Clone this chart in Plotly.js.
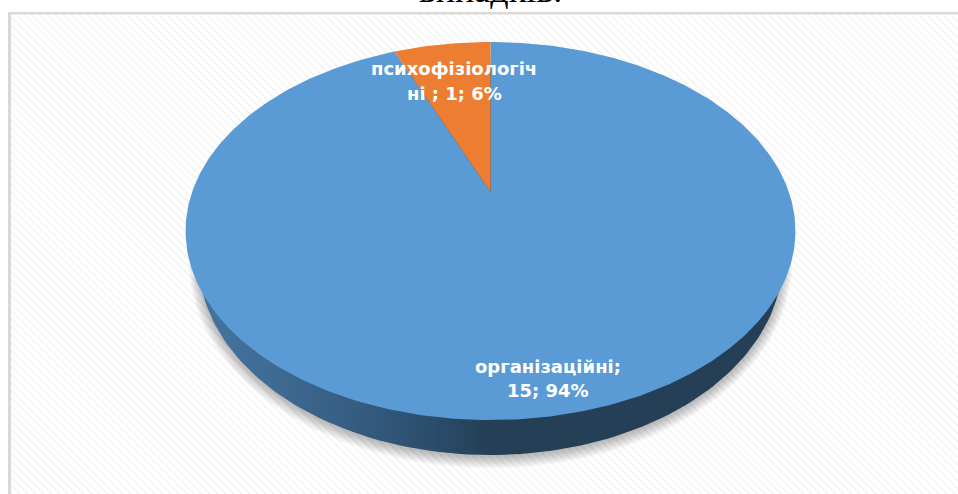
<!DOCTYPE html>
<html><head><meta charset="utf-8">
<script src="https://cdn.plot.ly/plotly-3.0.1.min.js"></script>
<style>
html,body{margin:0;padding:0;background:#fff;overflow:hidden}
#wrap{position:relative;width:958px;height:494px}
#hatch{position:absolute;left:11px;top:14px;right:0;bottom:0;background:repeating-linear-gradient(45deg,#f6f6f6 0,#f6f6f6 2px,#ffffff 2px,#ffffff 5.6px)}
#chart{position:absolute;left:0;top:0;width:958px;height:494px}
</style></head><body>
<div id="wrap"><div id="hatch"></div><div id="chart"></div></div>
<script>
const categories = ['організаційні', 'психофізіологічні'];
const values = [15, 1];
const percents = ['94%', '6%'];
const sliceColors = ['#5b9bd5', '#ed7d31'];
const labelLines = [['організаційні;', '15; 94%'], ['психофізіологіч', 'ні ; 1; 6%']];
const labelX = [548, 454];
const labelY = [[366, 390], [68, 93]];
const titleText = 'випадків.';

// Disc seen in perspective: a pie angle is projected to the page frame
const apex = {x: 490.5, y: 192}, persp = 0.2063, P = 181, Q = 298.4;
const project = a => {
  const d = 1 + persp * Math.cos(a);
  return [apex.x + Q * Math.sin(a) / d, apex.y - P * Math.cos(a) / d];
};
const total = values.reduce((s, v) => s + v, 0);
const traces = [];

function ellipse(cx, cy, rx, ry) {
  const xs = [], ys = [];
  for (let i = 0; i <= 240; i++) {
    const t = i / 240 * 2 * Math.PI;
    xs.push(cx + rx * Math.cos(t)); ys.push(cy + ry * Math.sin(t));
  }
  return {x: xs, y: ys};
}
// soft shadow under the disc
for (let k = 14; k >= 1; k -= 1) {
  const e = ellipse(490.5, 262, 291 + k * 0.8, 194 + k * 0.9);
  traces.push({x: e.x, y: e.y, type: 'scatter', mode: 'lines', fill: 'toself',
    line: {width: 0}, fillcolor: 'rgba(0,0,0,0.02)', hoverinfo: 'skip', showlegend: false});
}
// disc side
const side = ellipse(490.5, 260, 292, 195);
traces.push({x: side.x, y: side.y, type: 'scatter', mode: 'lines', fill: 'toself',
  line: {width: 0}, hoverinfo: 'skip', showlegend: false,
  fillgradient: {type: 'horizontal', colorscale: [
    [0, '#44759f'], [0.12, '#3f6b94'], [0.3, '#33597d'], [0.42, '#2a4a67'], [0.5, '#243f56'], [1, '#243f56']]}});
// slices
let cum = 0;
values.forEach((v, i) => {
  const a0 = cum / total * 2 * Math.PI; cum += v;
  const a1 = cum / total * 2 * Math.PI;
  const xs = [apex.x], ys = [apex.y];
  const n = Math.max(8, Math.round((a1 - a0) * 80));
  for (let j = 0; j <= n; j++) {
    const p = project(a0 + (a1 - a0) * j / n);
    xs.push(p[0]); ys.push(p[1]);
  }
  xs.push(apex.x); ys.push(apex.y);
  traces.push({x: xs, y: ys, type: 'scatter', mode: 'lines', fill: 'toself',
    line: {width: 0}, fillcolor: sliceColors[i], name: categories[i],
    text: categories[i] + ': ' + v + ' (' + percents[i] + ')', hoverinfo: 'text', showlegend: false});
});

const annotations = [];
labelLines.forEach((lines, i) => lines.forEach((t, j) => annotations.push({
  x: labelX[i], y: labelY[i][j], xref: 'x', yref: 'y', text: t, showarrow: false,
  xanchor: 'center', yanchor: 'middle',
  font: {family: 'DejaVu Sans', size: 18, color: '#ffffff', weight: 700}
})));

const layout = {
  width: 958, height: 494, margin: {l: 0, r: 0, t: 0, b: 0},
  paper_bgcolor: 'rgba(0,0,0,0)', plot_bgcolor: 'rgba(0,0,0,0)',
  showlegend: false,
  title: {text: titleText, x: 0.512, xanchor: 'center', y: 1.0, yanchor: 'top', yref: 'paper',
    pad: {t: -23}, font: {family: 'Liberation Serif', size: 36, color: '#000'}},
  xaxis: {range: [0, 958], visible: false, fixedrange: true},
  yaxis: {range: [494, 0], visible: false, fixedrange: true},
  shapes: [
    {type: 'rect', xref: 'x', yref: 'y', x0: 8, x1: 11, y0: 12, y1: 494, fillcolor: '#d9d9d9', line: {width: 0}, layer: 'below'},
    {type: 'rect', xref: 'x', yref: 'y', x0: 8, x1: 958, y0: 12, y1: 14.5, fillcolor: '#d9d9d9', line: {width: 0}, layer: 'below'}
  ],
  annotations
};
Plotly.newPlot('chart', traces, layout, {displayModeBar: false});
</script>
</body></html>
